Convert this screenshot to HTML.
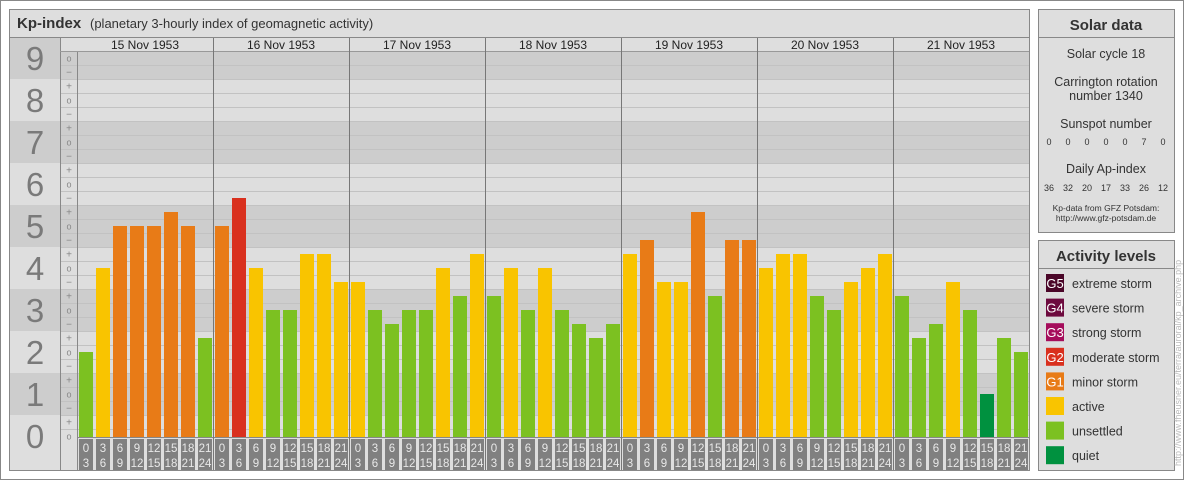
<!DOCTYPE html>
<html><head><meta charset="utf-8"><style>
html,body{margin:0;padding:0;background:#fff;}
svg{display:block;font-family:"Liberation Sans",sans-serif;}
</style></head><body>
<svg width="1184" height="480" viewBox="0 0 1184 480" xmlns="http://www.w3.org/2000/svg">
<rect x="0.5" y="0.5" width="1183" height="479" fill="#fff" stroke="#888"/>
<rect x="9.5" y="9.5" width="1020" height="461" fill="#dedede" stroke="#888"/>
<text x="17" y="28" font-size="15" font-weight="bold" fill="#333">Kp-index</text>
<text x="90" y="28" font-size="13" fill="#333">(planetary 3-hourly index of geomagnetic activity)</text>
<line x1="10" y1="37.5" x2="1029" y2="37.5" stroke="#888"/>
<g id="bands"></g>
<g id="rest"></g>
<!-- Right panels -->
<rect x="1038.5" y="9.5" width="136" height="223" fill="#dedede" stroke="#888"/>
<line x1="1039" y1="37.5" x2="1174" y2="37.5" stroke="#888"/>
<text x="1106" y="30" font-size="15" font-weight="bold" fill="#333" text-anchor="middle">Solar data</text>
<g font-size="12.5" fill="#333" text-anchor="middle">
<text x="1106" y="58">Solar cycle 18</text>
<text x="1106" y="86">Carrington rotation</text>
<text x="1106" y="100">number 1340</text>
<text x="1106" y="128">Sunspot number</text>
<text x="1106" y="173">Daily Ap-index</text>
</g>
<g font-size="9" fill="#333" text-anchor="middle">
<text x="1049" y="145">0</text><text x="1068" y="145">0</text><text x="1087" y="145">0</text><text x="1106" y="145">0</text><text x="1125" y="145">0</text><text x="1144" y="145">7</text><text x="1163" y="145">0</text>
<text x="1049" y="191">36</text><text x="1068" y="191">32</text><text x="1087" y="191">20</text><text x="1106" y="191">17</text><text x="1125" y="191">33</text><text x="1144" y="191">26</text><text x="1163" y="191">12</text>
<text x="1106" y="211" font-size="8.5">Kp-data from  GFZ Potsdam:</text>
<text x="1106" y="221" font-size="8.5">http://www.gfz-potsdam.de</text>
</g>
<rect x="1038.5" y="240.5" width="136" height="230" fill="#dedede" stroke="#888"/>
<line x1="1039" y1="268.5" x2="1174" y2="268.5" stroke="#888"/>
<text x="1106" y="261" font-size="15" font-weight="bold" fill="#333" text-anchor="middle">Activity levels</text>
<g id="legend"></g>
<text transform="translate(1181,466) rotate(-90)" font-size="9" fill="#bbb">http://www.fheusner.eu/terra/auroral/kp_archive.php</text>
<script>
(function(){
var NS="http://www.w3.org/2000/svg";
var bands=document.getElementById('bands'),rest=document.getElementById('rest'),leg=document.getElementById('legend');
function el(p,t,a,txt){var e=document.createElementNS(NS,t);for(var k in a)e.setAttribute(k,a[k]);if(txt!==undefined)e.textContent=txt;p.appendChild(e);return e;}
var B=436;
function Y(v){return B-v*42;}
// bands
for(var n=0;n<=9;n++){
  var top=Math.max(38,Y(n+0.5)), bot=Math.min(471,Y(n-0.5));
  if(n==0)bot=470;
  var dark=(n%2==1);
  el(bands,'rect',{x:10,y:top,width:50,height:bot-top,fill:dark?'#cdcdcd':'#dedede'});
  var pt=Math.max(51,Y(n+0.5)), pb=Math.min(437,Y(n-0.5));
  el(bands,'rect',{x:60,y:pt,width:969,height:pb-pt,fill:dark?'#cdcdcd':'#dedede'});
  el(bands,'text',{x:35,y:Y(n)+12,'font-size':33,fill:'#7a7a7a','text-anchor':'middle'},String(n));
}
// grid lines
for(var k=0;k<27;k++){var y=B-14*k-7+0.5;el(rest,'line',{x1:60,x2:1029,y1:y,y2:y,stroke:'#c2c2c2'});}
// symbols
var sym=['−','o','+'];
for(var n=0;n<=9;n++){for(var j=-1;j<=1;j++){var v=n+j/3;if(v<0||v>9.01)continue;
 el(rest,'text',{x:69,y:Y(v)+3.5,'font-size':(j==0?9:10),fill:'#888','text-anchor':'middle'},sym[j+1]);}}
// column lines
el(rest,'line',{x1:60.5,x2:60.5,y1:38,y2:470,stroke:'#888'});
el(rest,'line',{x1:77.5,x2:77.5,y1:38,y2:470,stroke:'#888'});
el(rest,'rect',{x:61,y:38,width:968,height:13,fill:'#dedede'});
el(rest,'line',{x1:60,x2:1029,y1:51.5,y2:51.5,stroke:'#999'});
el(rest,'line',{x1:77,x2:1029,y1:437.5,y2:437.5,stroke:'#888'});
var dates=['15 Nov 1953','16 Nov 1953','17 Nov 1953','18 Nov 1953','19 Nov 1953','20 Nov 1953','21 Nov 1953'];
var data=[[2,4,5,5,5,16/3,5,7/3],[5,17/3,4,3,3,13/3,13/3,11/3],[11/3,3,8/3,3,3,4,10/3,13/3],[10/3,4,3,4,3,8/3,7/3,8/3],[13/3,14/3,11/3,11/3,16/3,10/3,14/3,14/3],[4,13/3,13/3,10/3,3,11/3,4,13/3],[10/3,7/3,8/3,11/3,3,1,7/3,2]];
function col(v){if(v<1.5)return '#00913f';if(v<3.5)return '#7cc121';if(v<4.5)return '#f9c400';if(v<5.5)return '#e87b17';return '#d9301e';}
for(var d=0;d<7;d++){var x0=77+136*d;
 if(d>0)el(rest,'line',{x1:x0+0.5,x2:x0+0.5,y1:38,y2:470,stroke:'#777'});
 el(rest,'text',{x:x0+68,y:49,'font-size':12,fill:'#222','text-anchor':'middle'},dates[d]);
 for(var i=0;i<8;i++){var bx=x0+2+17*i,v=data[d][i],yt=Math.round(Y(v));
  el(rest,'rect',{x:bx,y:yt,width:14,height:437-yt,fill:col(v)});
  el(rest,'rect',{x:bx,y:439,width:14,height:31,fill:'#808080'});
  el(rest,'text',{x:bx+7,y:452,'font-size':11.5,fill:'#e8e8e8','text-anchor':'middle'},String(i*3));
  el(rest,'text',{x:bx+7,y:467,'font-size':11.5,fill:'#e8e8e8','text-anchor':'middle'},String(i*3+3));
 }}
el(rest,'line',{x1:10,x2:1029,y1:470.5,y2:470.5,stroke:'#888'});
var L=[['#4a0628','G5','extreme storm'],['#6d0a3e','G4','severe storm'],['#a50d5b','G3','strong storm'],['#d9301e','G2','moderate storm'],['#e87b17','G1','minor storm'],['#f9c400','','active'],['#7cc121','','unsettled'],['#00913f','','quiet']];
for(var i=0;i<8;i++){var cy=283+24.6*i;
 el(leg,'rect',{x:1046,y:cy-9,width:18,height:18,fill:L[i][0]});
 if(L[i][1])el(leg,'text',{x:1055,y:cy+5,'font-size':13,fill:'#fff','text-anchor':'middle'},L[i][1]);
 el(leg,'text',{x:1072,y:cy+5,'font-size':12.5,fill:'#333'},L[i][2]);}
})();
</script>
</svg>
</body></html>
